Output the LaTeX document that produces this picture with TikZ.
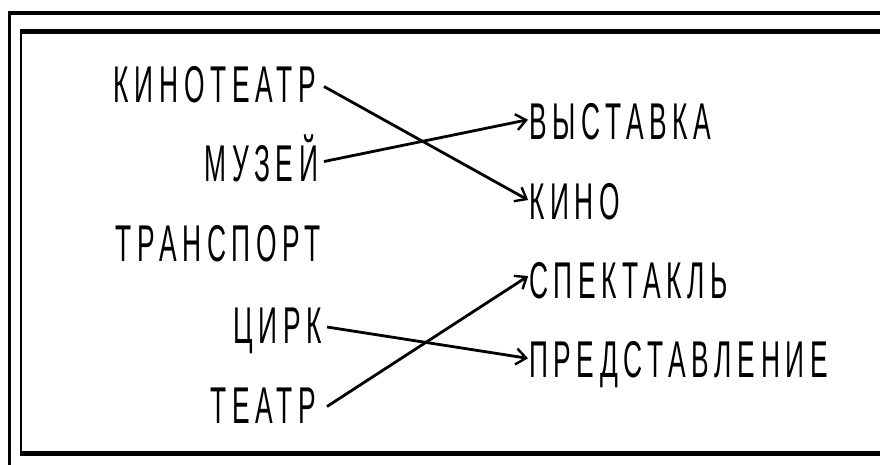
\documentclass[tikz,border=0pt]{standalone}
\usepackage{fontspec}
\usetikzlibrary{arrows.meta}
\newfontfamily\lblfont[FakeStretch=0.51,LetterSpace=11]{Liberation Sans}
\begin{document}
\begin{tikzpicture}[x=1pt,y=-1pt,
  lbl/.style={font=\lblfont\fontsize{51.7}{60}\selectfont, inner sep=0pt, outer sep=0pt, text height=37pt, text depth=0pt},
  lft/.style={lbl, anchor=east},
  rgt/.style={lbl, anchor=west},
  arr/.style={line width=2.8pt, -{Straight Barb[length=10pt,width=16pt,line width=2.4pt]}, shorten >=1pt}]
\useasboundingbox (0,0) rectangle (880,465);
% frames
\fill (8,11) rectangle (880,15);
\fill (8,11) rectangle (11,465);
\fill (20,29) rectangle (880,34);
\fill (20,29) rectangle (22,456);
\fill (20,451) rectangle (880,456);
% left column
\node[lft] (kt) at (316,84.5) {КИНОТЕАТР};
\node[lft] (mz) at (318,163.5) {МУЗЕЙ};
\node[lft] (tr) at (321,242.5) {ТРАНСПОРТ};
\node[lft] (cr) at (322,325) {ЦИРК};
\node[lft] (te) at (316,404.5) {ТЕАТР};
% right column
\node[rgt] (vy) at (529,121.5) {ВЫСТАВКА};
\node[rgt] (ki) at (529,200.5) {КИНО};
\node[rgt] (sp) at (529,279.5) {СПЕКТАКЛЬ};
\node[rgt] (pr) at (529,358.5) {ПРЕДСТАВЛЕНИЕ};
% connectors
\draw[arr] ([xshift=8pt,yshift=-2pt]kt.east) -- (ki.west);
\draw[arr] ([xshift=6pt,yshift=2pt]mz.east) -- ([yshift=2pt]vy.west);
\draw[arr] ([xshift=5pt,yshift=-2pt]cr.east) -- (pr.west);
\draw[arr] ([xshift=11pt,yshift=-2pt]te.east) -- ([yshift=4pt]sp.west);
\end{tikzpicture}
\end{document}
